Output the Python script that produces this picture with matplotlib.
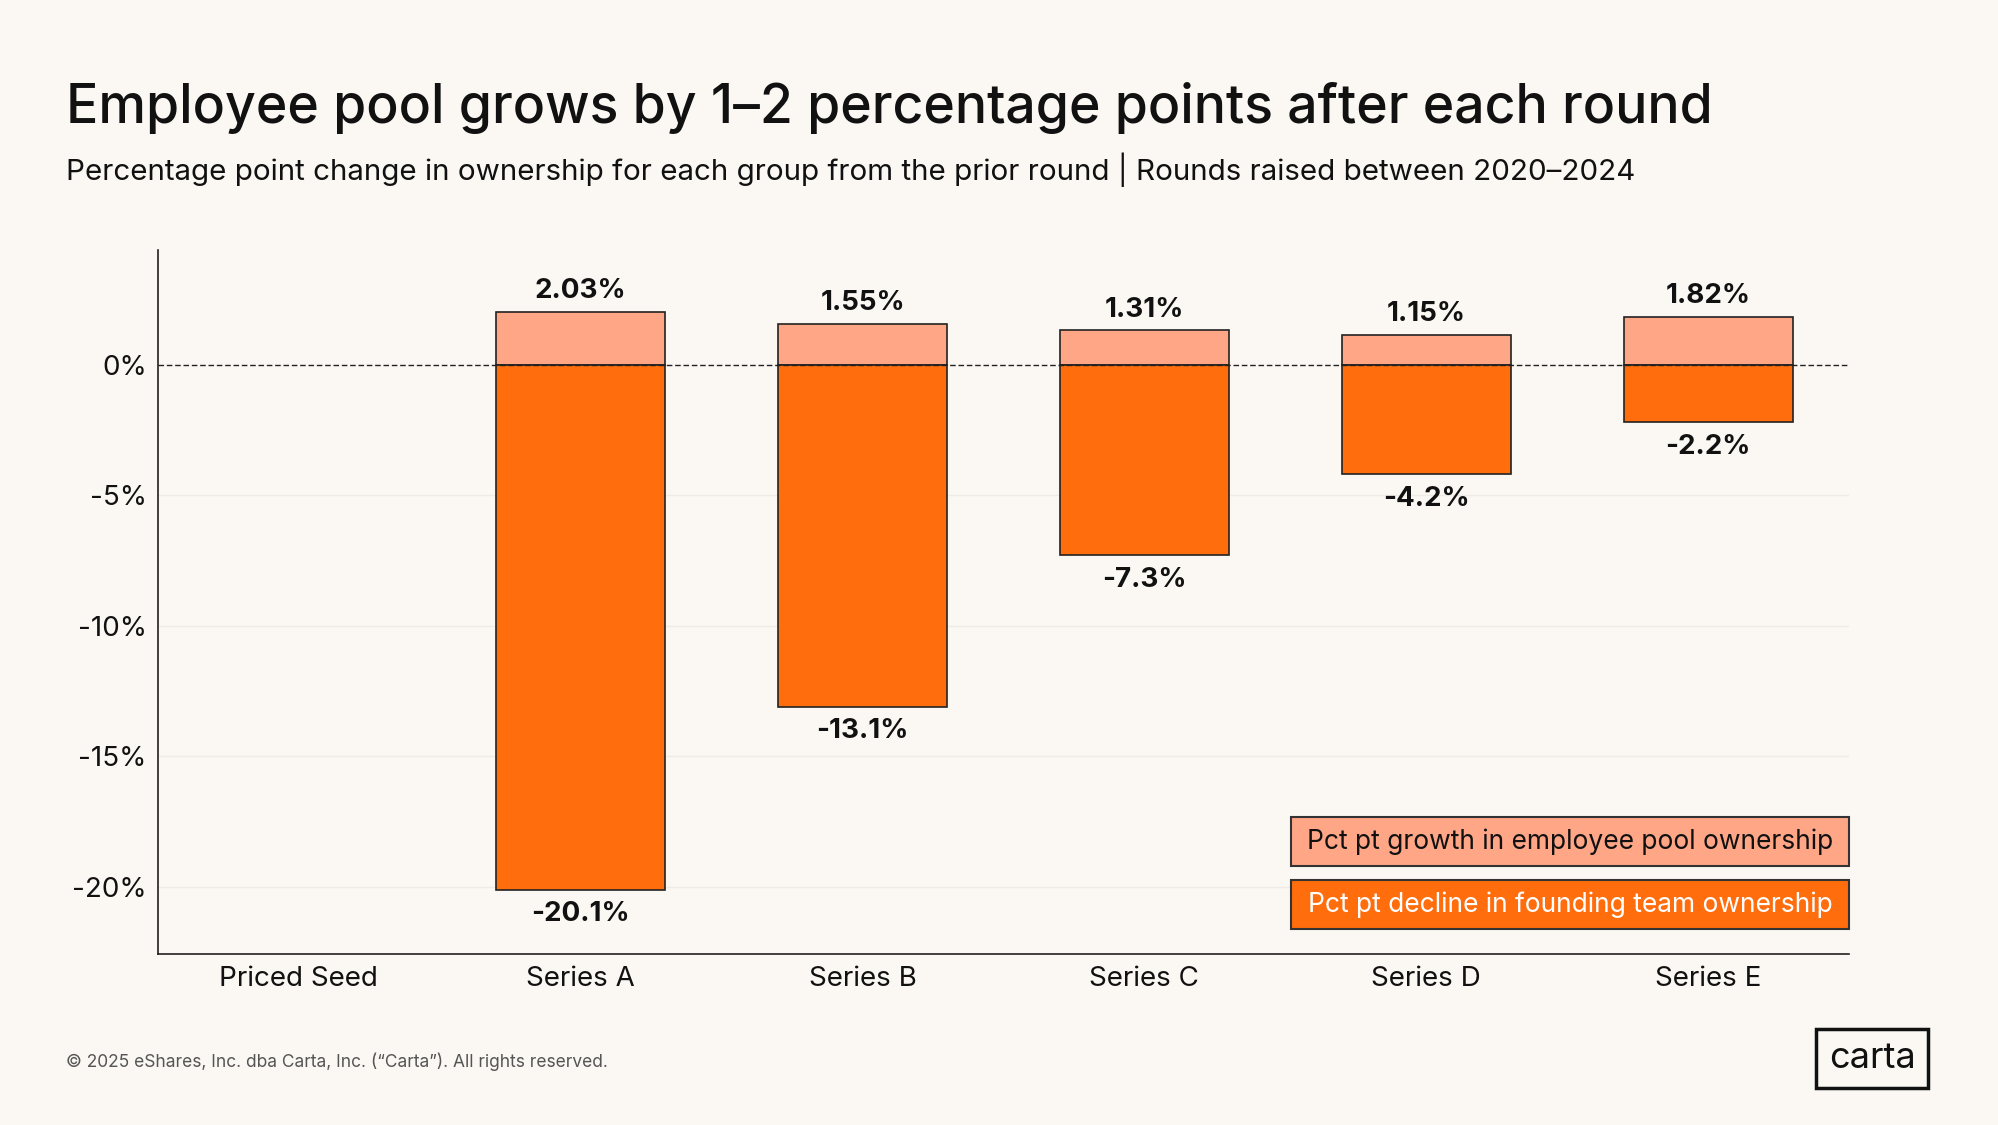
import numpy as np
import matplotlib.pyplot as plt
from matplotlib.patches import Rectangle

plt.rcParams['font.family'] = ['Inter', 'DejaVu Sans']

# Data
rounds = ['Priced Seed', 'Series A', 'Series B', 'Series C', 'Series D', 'Series E']
pool_growth = [np.nan, 2.03, 1.55, 1.31, 1.15, 1.82]
founder_decline = [np.nan, -20.1, -13.1, -7.3, -4.2, -2.2]
yticks = [0, -5, -10, -15, -20]

bg = '#FBF8F3'
light = '#FFA687'
dark = '#FF6D0D'

fig = plt.figure(figsize=(19.99, 11.25), dpi=100, facecolor=bg)
ax = fig.add_axes([0.079, 0.152, 0.846, 0.626])
ax.set_facecolor(bg)

x = np.arange(len(rounds))
ax.bar(x, pool_growth, width=0.6, color=light, edgecolor='#222222', linewidth=1.2, zorder=3)
ax.bar(x, founder_decline, width=0.6, color=dark, edgecolor='#222222', linewidth=1.2, zorder=3)

for xi, g, d in zip(x, pool_growth, founder_decline):
    if np.isnan(g):
        continue
    ax.text(xi, g + 0.3, f'{g:.2f}%', ha='center', va='bottom', fontsize=20,
            fontweight='bold', color='#111111')
    ax.text(xi, d - 0.45, f'{d:.1f}%', ha='center', va='top', fontsize=20,
            fontweight='bold', color='#111111')

ax.axhline(0, color='#222222', linestyle='--', linewidth=1.0, dashes=(4, 2), zorder=4)
for t in yticks[1:]:
    ax.axhline(t, color='#EFEBE5', linewidth=1.0, zorder=1)

ax.set_xlim(-0.5, 5.5)
ax.set_ylim(-22.57, 4.4)
ax.set_yticks(yticks)
ax.set_yticklabels([f'{t}%' for t in yticks])
ax.set_xticks(x)
ax.set_xticklabels(rounds)
ax.tick_params(axis='both', length=0, labelsize=20, colors='#111111')
ax.tick_params(axis='x', pad=9)
ax.tick_params(axis='y', pad=8)
for s in ['top', 'right']:
    ax.spines[s].set_visible(False)
for s in ['left', 'bottom']:
    ax.spines[s].set_color('#222222')
    ax.spines[s].set_linewidth(1.2)

# Legend boxes
legend_items = [('Pct pt growth in employee pool ownership', light, '#111111'),
                ('Pct pt decline in founding team ownership', dark, 'white')]
box_x0, box_w, box_h = 0.67, 0.33, 0.069
for i, (lab, col, tc) in enumerate(legend_items):
    y0 = 0.125 - i * 0.089
    ax.add_patch(Rectangle((box_x0, y0), box_w, box_h, transform=ax.transAxes,
                           facecolor=col, edgecolor='#333333', linewidth=1.5, zorder=5,
                           clip_on=False))
    ax.text(box_x0 + box_w / 2, y0 + box_h / 2, lab, transform=ax.transAxes,
            ha='center', va='center', fontsize=19, color=tc, zorder=6)

fig.text(0.033, 0.891, 'Employee pool grows by 1\u20132 percentage points after each round',
         fontsize=38.6, fontweight='medium', color='#111111', ha='left', va='baseline')
fig.text(0.033, 0.84, 'Percentage point change in ownership for each group from the prior round | Rounds raised between 2020\u20132024',
         fontsize=21.3, color='#111111', ha='left', va='baseline')
fig.text(0.033, 0.056, '\u00a9 2025 eShares, Inc. dba Carta, Inc. (\u201cCarta\u201d). All rights reserved.',
         fontsize=12.5, color='#555555', ha='left', va='center')

fig.text(0.9365, 0.0595, 'carta', fontsize=26, color='#111111', ha='center', va='center',
         bbox=dict(boxstyle='square,pad=0.36', facecolor=bg, edgecolor='#111111', linewidth=2.5))

fig.savefig('out.png', dpi=100, facecolor=bg)
